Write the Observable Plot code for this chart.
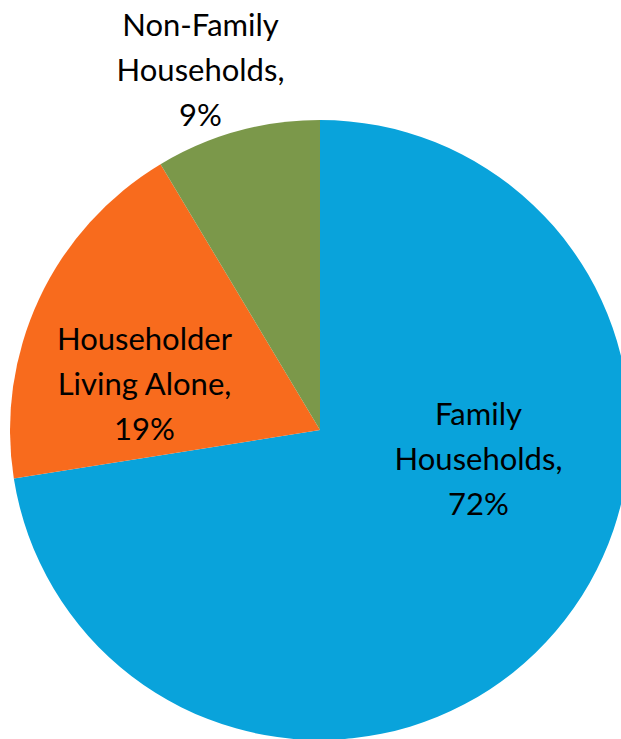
<!DOCTYPE html>
<html>
<head>
<meta charset="utf-8">
<script src="https://cdn.jsdelivr.net/npm/d3@7"></script>
<script src="https://cdn.jsdelivr.net/npm/@observablehq/plot@0.6"></script>
<style>
  html, body { margin: 0; padding: 0; background: #ffffff; overflow: hidden; }
  #chart svg { display: block; }
</style>
</head>
<body>
<div id="chart"></div>
<script>
// ---- data ----
const categories = ["Family\nHouseholds", "Householder\nLiving Alone", "Non-Family\nHouseholds"];
const shares = [72.5, 18.9, 8.6];          // slice sizes
const shareLabels = ["72%", "19%", "9%"];  // labels as printed
const colors = ["#09A3DB", "#F86B1D", "#7B984A"];

// ---- layout (pixels relative to pie centre) ----
const R = 310;
const labelOffsets = [[158, 25], [-176, -50], [-120, -364]];

const rows = categories.map((c, i) => ({
  name: c, value: shares[i], color: colors[i],
  lx: labelOffsets[i][0], ly: labelOffsets[i][1],
  label: `${c},\n${shareLabels[i]}`
}));

function pieMark(...args) {
  const s = args.find(a => a && typeof a.x === "function" && typeof a.y === "function");
  const cx = s ? s.x(0) : 320, cy = s ? s.y(0) : 430;
  const r = s ? s.x(R) - s.x(0) : R;
  const arcs = d3.pie().sort(null).value(d => d.value)(rows);
  const arc = d3.arc().innerRadius(0).outerRadius(r);
  const g = d3.create("svg:g").attr("transform", `translate(${cx},${cy})`);
  g.selectAll("path").data(arcs).join("path")
    .attr("d", arc)
    .attr("fill", d => d.data.color);
  return g.node();
}

const chart = Plot.plot({
  width: 621,
  height: 739,
  margin: 0,
  style: { background: "#ffffff", fontFamily: "Lato, sans-serif" },
  x: { domain: [-320, 301], range: [0, 621], axis: null },
  y: { domain: [-430, 309], range: [0, 739], axis: null },
  marks: [
    pieMark,
    Plot.text(rows, {
      x: "lx", y: "ly", text: "label",
      fontSize: 31, lineHeight: 1.45, fill: "#000000",
      textAnchor: "middle"
    })
  ]
});
document.getElementById("chart").appendChild(chart);
</script>
</body>
</html>
